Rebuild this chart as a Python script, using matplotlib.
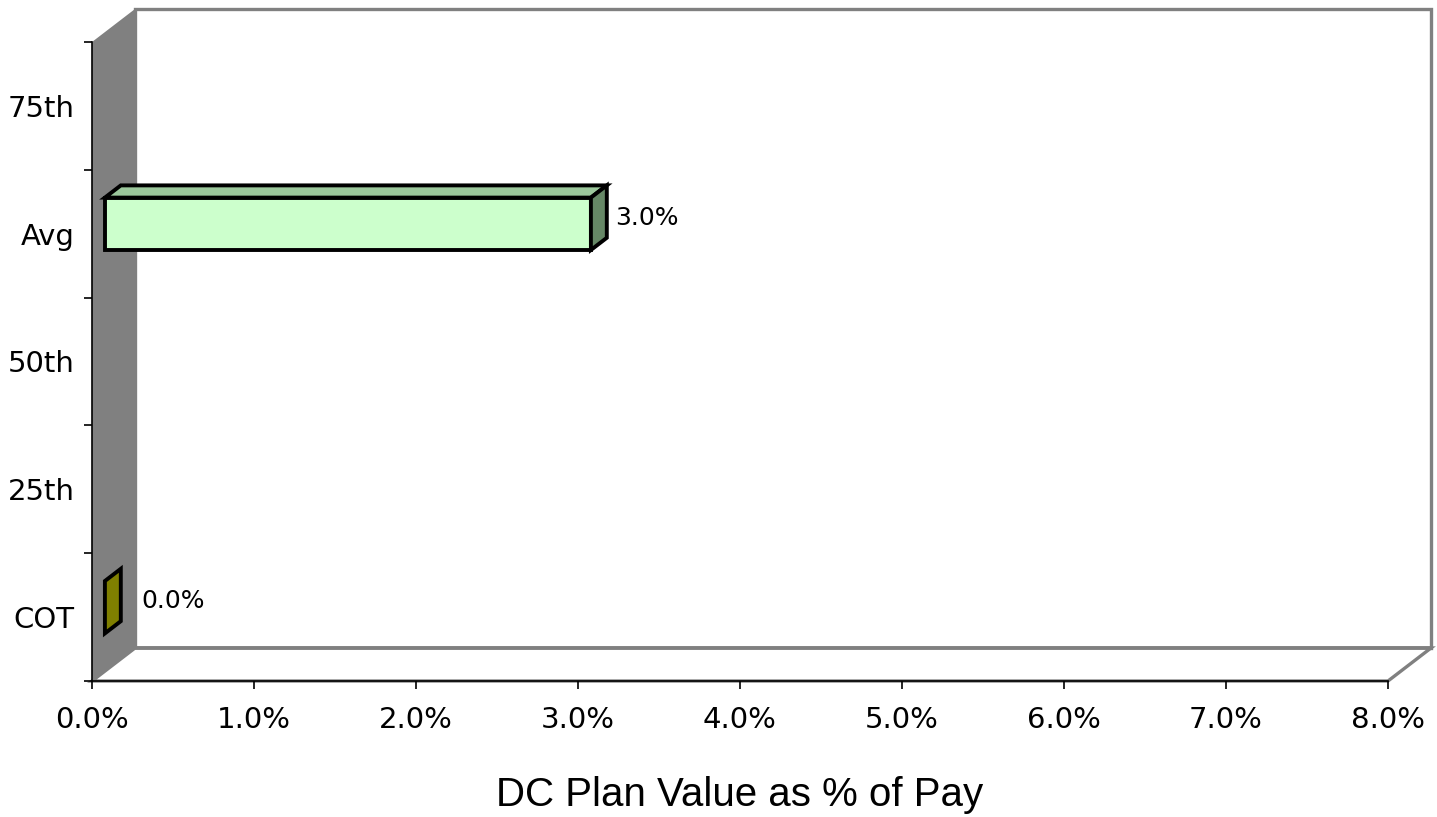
import matplotlib
matplotlib.use("Agg")
import matplotlib.pyplot as plt
from matplotlib.patches import Polygon, Rectangle
from matplotlib.ticker import FixedLocator, NullFormatter

categories = ["COT", "25th", "50th", "Avg", "75th"]
values = [0.0, None, None, 3.0, None]          # % of pay; None = no bar
front_colors = ["#808000", None, None, "#CCFFCC", None]
top_colors = ["#666600", None, None, "#9CC89C", None]
side_colors = ["#808000", None, None, "#668866", None]
xticks = [0, 1, 2, 3, 4, 5, 6, 7, 8]
xlabel = "DC Plan Value as % of Pay"

W, H, DPI = 1437, 817, 100
fig = plt.figure(figsize=(W / DPI, H / DPI), dpi=DPI)

# front plane of the pseudo-3D box
left, right, bottom, top = 92, 1388, 681, 42
ax = fig.add_axes([left / W, (H - bottom) / H, (right - left) / W, (bottom - top) / H])
xmax = 8.0
ymin, ymax = -0.5, len(categories) - 0.5
ax.set_xlim(0, xmax)
ax.set_ylim(ymin, ymax)

# depth offset (43 px right, 33 px up) in data units
px_x = (right - left) / xmax
px_y = (bottom - top) / (ymax - ymin)
dx, dy = 43 / px_x, 33 / px_y

grey = "#808080"
# back wall
ax.add_patch(Rectangle((dx, ymin + dy), xmax, ymax - ymin, fc="white",
                       ec=grey, lw=2.4, clip_on=False, zorder=1))
# left side wall
ax.add_patch(Polygon([(0, ymin), (dx, ymin + dy), (dx, ymax + dy), (0, ymax)],
                     closed=True, fc=grey, ec="none", clip_on=False, zorder=2))
# floor
ax.add_patch(Polygon([(0, ymin), (xmax, ymin), (xmax + dx, ymin + dy), (dx, ymin + dy)],
                     closed=True, fc="white", ec=grey, lw=2.4, clip_on=False, zorder=1.5))
ax.plot([dx, xmax + dx], [ymin + dy, ymin + dy], color=grey, lw=2.6,
        clip_on=False, zorder=2.5, solid_capstyle="butt")

# bars
f0, f1 = 0.30, 0.67      # front / back depth fraction of the bar
h = 0.41
for i, v in enumerate(values):
    if v is None:
        continue
    xa, ya = f0 * dx, f0 * dy
    xb, yb = f1 * dx, f1 * dy
    y0, y1 = i - h / 2, i + h / 2
    kw = dict(closed=True, ec="black", lw=2.8, joinstyle="miter", clip_on=False, zorder=5)
    if v > 0:
        ax.add_patch(Polygon([(xa, y1 + ya), (v + xa, y1 + ya), (v + xb, y1 + yb), (xb, y1 + yb)],
                             fc=top_colors[i], **kw))
        ax.add_patch(Polygon([(xa, y0 + ya), (v + xa, y0 + ya), (v + xa, y1 + ya), (xa, y1 + ya)],
                             fc=front_colors[i], **kw))
    ax.add_patch(Polygon([(v + xa, y0 + ya), (v + xb, y0 + yb), (v + xb, y1 + yb), (v + xa, y1 + ya)],
                         fc=side_colors[i], **kw))
    off = 6 if v > 0 else 15
    ax.annotate(f"{v:.1f}%", xy=(v + xb, i + (f0 + f1) / 2 * dy), xytext=(off, 0),
                textcoords="offset points", ha="left", va="center",
                fontsize=18, family="DejaVu Sans", zorder=6)

# axes styling
for s in ["top", "right"]:
    ax.spines[s].set_visible(False)
for s in ["left", "bottom"]:
    ax.spines[s].set_color("black")
    ax.spines[s].set_linewidth(1.2)
    ax.spines[s].set_zorder(4)
ax.patch.set_visible(False)

ax.set_xticks(xticks)
ax.set_xticklabels([f"{t:.1f}%" for t in xticks], fontsize=21, family="DejaVu Sans")
ax.tick_params(axis="x", direction="out", length=6, width=1.2, pad=12)

ax.yaxis.set_major_locator(FixedLocator([k - 0.5 for k in range(len(categories) + 1)]))
ax.yaxis.set_major_formatter(NullFormatter())
ax.yaxis.set_minor_locator(FixedLocator(range(len(categories))))
ax.set_yticklabels(categories, minor=True, fontsize=21, family="DejaVu Sans")
ax.tick_params(axis="y", which="major", direction="out", length=6, width=1.2)
ax.tick_params(axis="y", which="minor", length=0, pad=12.5)

ax.set_xlabel(xlabel, fontsize=29, family="Liberation Sans", labelpad=30)

fig.savefig("out.png", dpi=DPI)
